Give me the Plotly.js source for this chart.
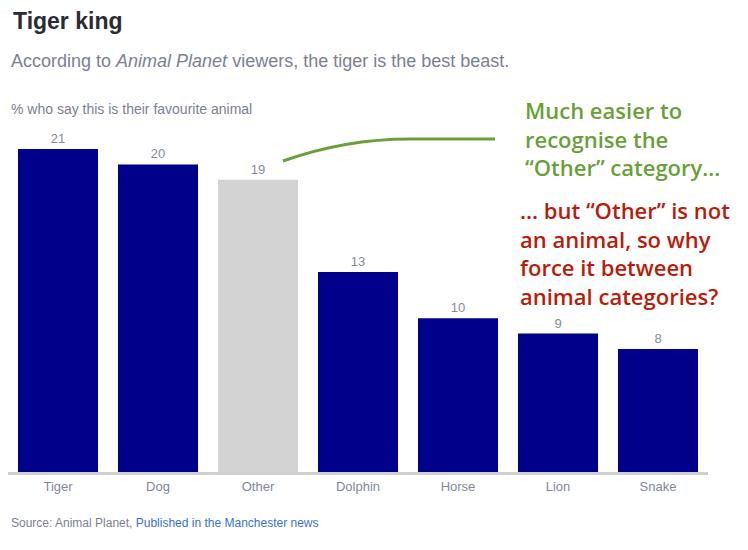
<!DOCTYPE html>
<html><head><meta charset="utf-8">
<script src="https://cdn.plot.ly/plotly-3.0.1.min.js"></script>
<style>body{margin:0;background:#fff}#chart{width:748px;height:550px}</style>
</head><body><div id="chart"></div>
<script>
var categories = ["Tiger","Dog","Other","Dolphin","Horse","Lion","Snake"];
var values = [21,20,19,13,10,9,8];
var barColors = ["#00008b","#00008b","#d3d3d3","#00008b","#00008b","#00008b","#00008b"];

var F = "Liberation Sans, Arial, sans-serif";
var A = "Open Sans, sans-serif";
var trace = {
  type: "bar", x: categories, y: values,
  marker: {color: barColors},
  text: values.map(String), textposition: "outside", cliponaxis: false,
  textfont: {family: F, size: 13, color: "#868b9c"},
  hoverinfo: "none"
};
var layout = {
  width: 748, height: 550,
  margin: {l: 8, r: 40, t: 149, b: 78},
  paper_bgcolor: "#fff", plot_bgcolor: "#fff",
  showlegend: false, bargap: 0.2,
  xaxis: {showline: true, linecolor: "#d0d0d0", linewidth: 3, ticks: "", fixedrange: true,
    tickfont: {family: F, size: 13, color: "#82879a"}, showgrid: false, zeroline: false},
  yaxis: {range: [0, 21], visible: false, fixedrange: true},
  annotations: [
    {text: "<b>Tiger king</b>", xref: "paper", yref: "paper", x: (11-8)/700, y: (472-21)/323, xanchor: "left", yanchor: "middle", showarrow: false, align: "left",
      font: {family: F, size: 23, color: "#2b2b36"}},
    {text: "According to <i>Animal Planet</i> viewers, the tiger is the best beast.", xref: "paper", yref: "paper", x: (9-8)/700, y: (472-61)/323, xanchor: "left", yanchor: "middle", showarrow: false,
      font: {family: F, size: 18, color: "#7c8094"}},
    {text: "% who say this is their favourite animal", xref: "paper", yref: "paper", x: (9-8)/700, y: (472-109)/323, xanchor: "left", yanchor: "middle", showarrow: false,
      font: {family: F, size: 14, color: "#7c8094"}},
    {text: "Source: Animal Planet, <span style='fill:#3b6fd8'>Published in the Manchester news</span>", xref: "paper", yref: "paper", x: (9-8)/700, y: (472-523)/323, xanchor: "left", yanchor: "middle", showarrow: false,
      font: {family: F, size: 12, color: "#7c8094"}},
    {text: "Much easier to<br>recognise the<br>“Other” category...", xref: "paper", yref: "paper", x: (523-8)/700, y: (472-93)/323, xanchor: "left", yanchor: "top", showarrow: false, align: "left",
      font: {family: A, size: 22, weight: 600, color: "#6a9f3a"}},
    {text: "... but “Other” is not<br>an animal, so why<br>force it between<br>animal categories?", xref: "paper", yref: "paper", x: (518-8)/700, y: (472-193)/323, xanchor: "left", yanchor: "top", showarrow: false, align: "left",
      font: {family: A, size: 22, weight: 600, color: "#b81c0c"}}
  ],
  shapes: [
    {type: "path", xref: "paper", yref: "paper",
      path: "M " + ((283-8)/700) + "," + ((472-161)/323) + " Q " + ((345-8)/700) + "," + ((472-139)/323) + " " + ((410-8)/700) + "," + ((472-139)/323) + " L " + ((495-8)/700) + "," + ((472-139)/323),
      line: {color: "#6a9f3a", width: 3}}
  ]
};
Plotly.newPlot("chart", [trace], layout, {displayModeBar: false, staticPlot: true});
</script></body></html>
